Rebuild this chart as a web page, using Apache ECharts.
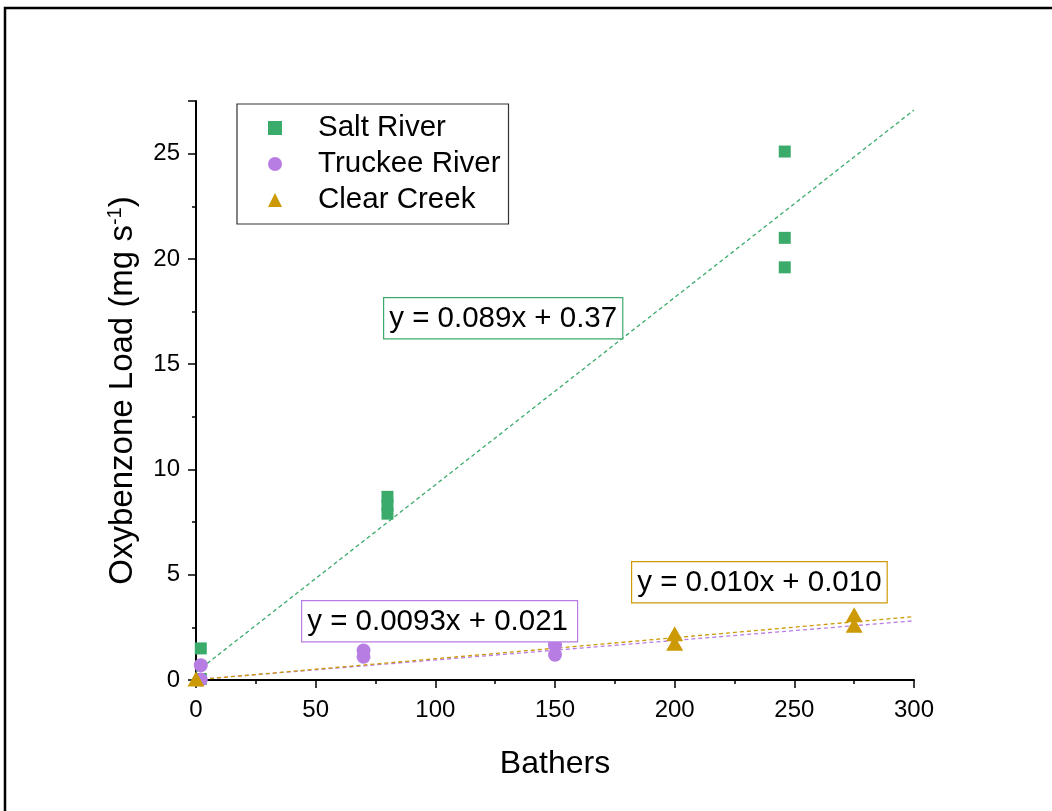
<!DOCTYPE html>
<html>
<head>
<meta charset="utf-8">
<script src="https://cdn.jsdelivr.net/npm/echarts@6/dist/echarts.min.js"></script>
<style>
  html, body { margin: 0; padding: 0; background: #fff; }
  #chart { width: 1052px; height: 811px; }
</style>
</head>
<body>
<div id="chart"></div>
<script>
// Measured oxybenzone load against bather count at three sites
const saltX = [2, 2, 80, 80, 80, 246, 246, 246];
const saltY = [1.5, 0.05, 7.9, 8.3, 8.7, 25.1, 21.0, 19.6];
const truckeeX = [2, 2, 70, 70, 150, 150];
const truckeeY = [0.7, 0.02, 1.4, 1.1, 1.65, 1.2];
const clearX = [0, 200, 200, 275, 275];
const clearY = [0.05, 2.2, 1.75, 3.1, 2.6];

// Linear fits (slope, intercept) as printed in the equation boxes
const fitSlopes = [0.089, 0.0093, 0.010];
const fitIntercepts = [0.37, 0.021, 0.010];
const fitLabels = ['y = 0.089x + 0.37', 'y = 0.0093x + 0.021', 'y = 0.010x + 0.010'];
const fitRange = [0, 300];

const seriesNames = ['Salt River', 'Truckee River', 'Clear Creek'];
const colors = ['#3bab6c', '#b87de2', '#cc9a06'];
const symbols = ['rect', 'circle', 'triangle'];
const symbolSizes = [12, 14, [17, 15]];

const xTicks = { min: 0, max: 300, interval: 50 };
const yTicks = { min: 0, max: 27.5, interval: 5 };

const FONT = '"Liberation Sans", Arial, sans-serif';

function pairs(xs, ys) { return xs.map((x, i) => [x, ys[i]]); }
function fitLine(k) {
  return fitRange.map(x => [x, fitSlopes[k] * x + fitIntercepts[k]]);
}

const pointSets = [pairs(saltX, saltY), pairs(truckeeX, truckeeY), pairs(clearX, clearY)];

const series = [];
for (let k = 0; k < 3; k++) {
  series.push({
    name: seriesNames[k] + ' fit',
    type: 'line',
    data: fitLine(k),
    symbol: 'none',
    silent: true,
    lineStyle: { color: colors[k], width: 1.3, type: [4, 3] },
    z: 2
  });
}
for (let k = 0; k < 3; k++) {
  series.push({
    name: seriesNames[k],
    type: 'scatter',
    data: pointSets[k],
    symbol: symbols[k],
    symbolSize: symbolSizes[k],
    itemStyle: { color: colors[k], opacity: 1 },
    z: 3
  });
}

const chart = echarts.init(document.getElementById('chart'), null, { renderer: 'canvas' });

const axisCommon = {
  axisLine: { show: true, onZero: false, lineStyle: { color: '#000', width: 2 } },
  axisTick: { show: true, inside: false, length: 8, lineStyle: { color: '#000', width: 1.5 } },
  minorTick: { show: true, splitNumber: 2, length: 4, lineStyle: { color: '#000', width: 1.5 } },
  splitLine: { show: false },
  minorSplitLine: { show: false },
  axisLabel: { color: '#000', fontFamily: FONT, fontSize: 24, margin: 18 },
  nameTextStyle: { color: '#000', fontFamily: FONT, fontSize: 32 }
};

// Boxed regression equation placed at a pixel position
function equationBox(k, left, top, padRight) {
  return {
    type: 'text', left: left, top: top,
    style: {
      text: fitLabels[k], fill: '#000', font: '29.5px ' + FONT,
      backgroundColor: '#fff', borderColor: colors[k], borderWidth: 1.2,
      padding: [6, padRight, 4, 5]
    }, z: 50
  };
}

chart.setOption({
  backgroundColor: '#fff',
  animation: false,
  grid: { left: 196, right: 138, top: 101, bottom: 131 },
  xAxis: Object.assign({}, axisCommon, {
    type: 'value',
    min: xTicks.min, max: xTicks.max, interval: xTicks.interval,
    name: 'Bathers',
    nameLocation: 'middle',
    nameGap: 68
  }),
  yAxis: Object.assign({}, axisCommon, {
    type: 'value',
    min: yTicks.min, max: yTicks.max, interval: yTicks.interval,
    axisLabel: Object.assign({}, axisCommon.axisLabel, { showMaxLabel: false, margin: 16 }),
    name: '{a|Oxybenzone Load (mg s}{s|-1}{a|)}',
    nameLocation: 'middle',
    nameGap: 56,
    nameTextStyle: {
      color: '#000', fontFamily: FONT, fontSize: 33,
      rich: {
        a: { fontFamily: FONT, fontSize: 33, color: '#000' },
        s: { fontFamily: FONT, fontSize: 20, color: '#000', padding: [0, 0, 15, 0] }
      }
    }
  }),
  legend: {
    data: seriesNames,
    orient: 'vertical',
    left: 237,
    top: 104,
    padding: [9, 8, 9, 31],
    itemWidth: 14,
    itemHeight: 14,
    itemGap: 6,
    borderColor: '#333',
    borderWidth: 1.2,
    textStyle: { color: '#000', fontFamily: FONT, fontSize: 29.5, lineHeight: 29, padding: [0, 0, 0, 31] }
  },
  graphic: [
    {
      type: 'rect',
      shape: { x: 5, y: 8, width: 1200, height: 1000 },
      style: { fill: null, stroke: '#000', lineWidth: 2.5 },
      silent: true, z: 100
    },
    equationBox(0, 383, 297, 5),
    equationBox(1, 301, 600, 9),
    equationBox(2, 631, 561, 5)
  ],
  series: series
});
</script>
</body>
</html>
